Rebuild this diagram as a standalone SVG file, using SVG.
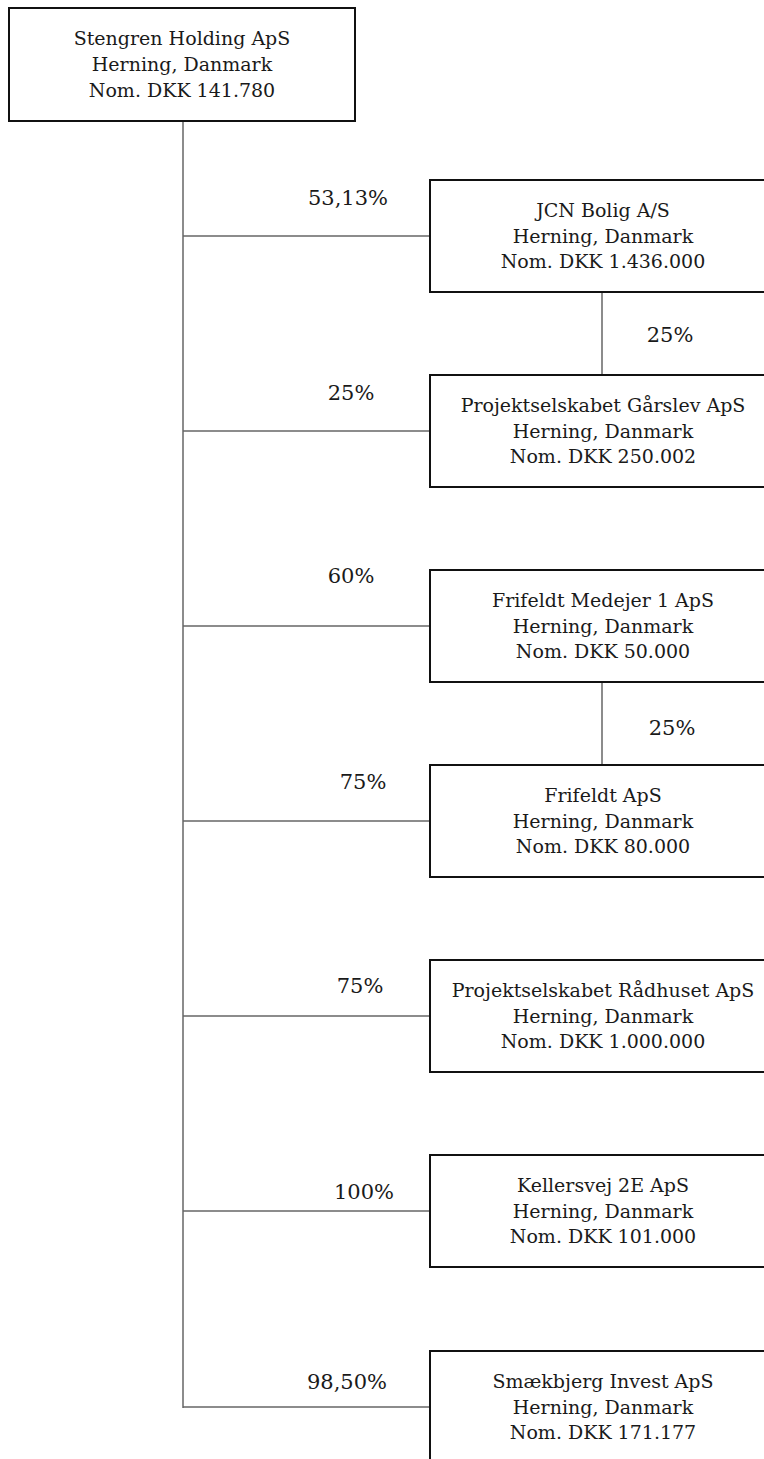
<svg xmlns="http://www.w3.org/2000/svg" width="764" height="1459" viewBox="0 0 764 1459">
<style>
.box{fill:#fff;stroke:#111;stroke-width:2}
.t{font-family:"DejaVu Serif","Liberation Serif",serif;font-size:19px;fill:#1a1a1a;text-anchor:middle}
.pct{font-family:"DejaVu Serif","Liberation Serif",serif;font-size:21px;fill:#1a1a1a;text-anchor:middle}
.c{stroke:#666;stroke-width:1.5;fill:none}
</style>
<rect width="764" height="1459" fill="#fff"/>
<g id="connectors">
<line class="c" x1="183" y1="121" x2="183" y2="1408"/>
<line class="c" x1="183" y1="236" x2="430" y2="236"/>
<line class="c" x1="183" y1="431" x2="430" y2="431"/>
<line class="c" x1="183" y1="626" x2="430" y2="626"/>
<line class="c" x1="183" y1="821" x2="430" y2="821"/>
<line class="c" x1="183" y1="1016" x2="430" y2="1016"/>
<line class="c" x1="183" y1="1211" x2="430" y2="1211"/>
<line class="c" x1="183" y1="1407" x2="430" y2="1407"/>
<line class="c" x1="602" y1="292" x2="602" y2="375"/>
<line class="c" x1="602" y1="682" x2="602" y2="765"/>
<text class="pct" x="348" y="205">53,13%</text>
<text class="pct" x="351" y="400">25%</text>
<text class="pct" x="351" y="583">60%</text>
<text class="pct" x="363" y="789">75%</text>
<text class="pct" x="360" y="993">75%</text>
<text class="pct" x="364" y="1199">100%</text>
<text class="pct" x="347" y="1389">98,50%</text>
<text class="pct" x="670" y="342">25%</text>
<text class="pct" x="672" y="735">25%</text>
</g>
<g id="n0">
<rect class="box" x="9" y="8" width="346" height="113"/>
<text class="t" x="182" y="45">Stengren Holding ApS</text>
<text class="t" x="182" y="71">Herning, Danmark</text>
<text class="t" x="182" y="97">Nom. DKK 141.780</text>
</g>
<g id="n1">
<rect class="box" x="430" y="180" width="346" height="112"/>
<text class="t" x="603" y="217">JCN Bolig A/S</text>
<text class="t" x="603" y="243">Herning, Danmark</text>
<text class="t" x="603" y="268">Nom. DKK 1.436.000</text>
</g>
<g id="n2">
<rect class="box" x="430" y="375" width="346" height="112"/>
<text class="t" x="603" y="412">Projektselskabet Gårslev ApS</text>
<text class="t" x="603" y="438">Herning, Danmark</text>
<text class="t" x="603" y="463">Nom. DKK 250.002</text>
</g>
<g id="n3">
<rect class="box" x="430" y="570" width="346" height="112"/>
<text class="t" x="603" y="607">Frifeldt Medejer 1 ApS</text>
<text class="t" x="603" y="633">Herning, Danmark</text>
<text class="t" x="603" y="658">Nom. DKK 50.000</text>
</g>
<g id="n4">
<rect class="box" x="430" y="765" width="346" height="112"/>
<text class="t" x="603" y="802">Frifeldt ApS</text>
<text class="t" x="603" y="828">Herning, Danmark</text>
<text class="t" x="603" y="853">Nom. DKK 80.000</text>
</g>
<g id="n5">
<rect class="box" x="430" y="960" width="346" height="112"/>
<text class="t" x="603" y="997">Projektselskabet Rådhuset ApS</text>
<text class="t" x="603" y="1023">Herning, Danmark</text>
<text class="t" x="603" y="1048">Nom. DKK 1.000.000</text>
</g>
<g id="n6">
<rect class="box" x="430" y="1155" width="346" height="112"/>
<text class="t" x="603" y="1192">Kellersvej 2E ApS</text>
<text class="t" x="603" y="1218">Herning, Danmark</text>
<text class="t" x="603" y="1243">Nom. DKK 101.000</text>
</g>
<g id="n7">
<rect class="box" x="430" y="1351" width="346" height="112"/>
<text class="t" x="603" y="1388">Smækbjerg Invest ApS</text>
<text class="t" x="603" y="1414">Herning, Danmark</text>
<text class="t" x="603" y="1439">Nom. DKK 171.177</text>
</g>
</svg>
